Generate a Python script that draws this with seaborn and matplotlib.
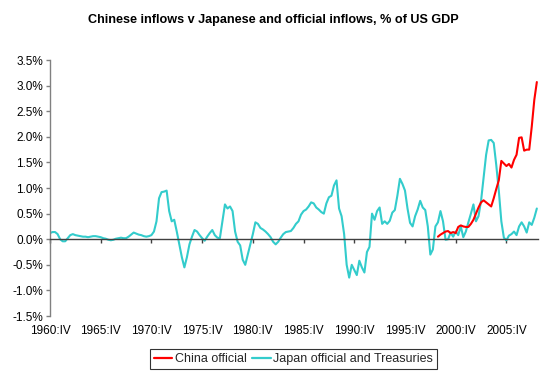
import numpy as np
import pandas as pd
import matplotlib
matplotlib.use("Agg")
import matplotlib.pyplot as plt
import seaborn as sns
from matplotlib.ticker import FuncFormatter, MultipleLocator
from matplotlib.lines import Line2D

# Quarterly data starting 1960:IV (index 0) through 2008:IV (index 192)
japan = [
    0.12, 0.14, 0.14, 0.10, 0.00, -0.04, -0.04, 0.02, 0.08, 0.10,
    0.08, 0.07, 0.06, 0.05, 0.05, 0.04, 0.05, 0.06, 0.06, 0.05,
    0.04, 0.02, 0.01, -0.01, -0.02, -0.01, 0.01, 0.02, 0.03, 0.02,
    0.02, 0.05, 0.09, 0.13, 0.11, 0.09, 0.08, 0.06, 0.05, 0.06,
    0.08, 0.15, 0.35, 0.80, 0.92, 0.93, 0.95, 0.55, 0.35, 0.38,
    0.15, -0.10, -0.35, -0.55, -0.35, -0.10, 0.05, 0.18, 0.15, 0.08,
    0.02, -0.03, 0.05, 0.12, 0.18, 0.08, 0.03, 0.02, 0.35, 0.68,
    0.60, 0.64, 0.55, 0.15, -0.05, -0.12, -0.40, -0.50, -0.30, -0.10,
    0.10, 0.33, 0.30, 0.22, 0.19, 0.15, 0.10, 0.04, -0.05, -0.10,
    -0.05, 0.03, 0.10, 0.14, 0.15, 0.16, 0.22, 0.30, 0.35, 0.48,
    0.55, 0.58, 0.64, 0.72, 0.70, 0.62, 0.58, 0.53, 0.50, 0.70,
    0.82, 0.85, 1.05, 1.15, 0.60, 0.45, 0.10, -0.50, -0.75, -0.50,
    -0.60, -0.70, -0.42, -0.55, -0.65, -0.25, -0.15, 0.50, 0.38, 0.55,
    0.62, 0.30, 0.35, 0.30, 0.36, 0.52, 0.57, 0.85, 1.18, 1.08,
    0.95, 0.60, 0.32, 0.25, 0.45, 0.58, 0.75, 0.62, 0.57, 0.25,
    -0.30, -0.20, 0.25, 0.33, 0.55, 0.35, -0.01, 0.00, 0.13, 0.05,
    0.15, 0.08, 0.25, 0.04, 0.15, 0.33, 0.50, 0.68, 0.35, 0.45,
    0.75, 1.20, 1.65, 1.93, 1.94, 1.88, 1.45, 0.95, 0.35, 0.03,
    -0.02, 0.07, 0.10, 0.15, 0.08, 0.25, 0.33, 0.25, 0.13, 0.33,
    0.28, 0.42, 0.60,
]
china_start = 153  # quarter index where the China series begins
china = [
    0.05, 0.09, 0.12, 0.15, 0.16, 0.12, 0.14, 0.12, 0.24, 0.27,
    0.25, 0.24, 0.24, 0.30, 0.38, 0.50, 0.62, 0.72, 0.76, 0.72,
    0.68, 0.64, 0.80, 0.98, 1.15, 1.53, 1.48, 1.43, 1.47, 1.40,
    1.55, 1.65, 1.98, 1.99, 1.73, 1.75, 1.75, 2.20, 2.72, 3.07,
]
tick_labels = ["1960:IV", "1965:IV", "1970:IV", "1975:IV", "1980:IV",
               "1985:IV", "1990:IV", "1995:IV", "2000:IV", "2005:IV"]
series_names = ["China official", "Japan official and Treasuries"]
colors = {"China official": "#FF0000", "Japan official and Treasuries": "#33CCCC"}
title = "Chinese inflows v Japanese and official inflows, % of US GDP"

n = len(japan)
df_j = pd.DataFrame({"q": np.arange(n), "value": japan, "series": series_names[1]})
df_c = pd.DataFrame({"q": np.arange(china_start, china_start + len(china)),
                     "value": china, "series": series_names[0]})
df = pd.concat([df_j, df_c], ignore_index=True)

sns.set_theme(style="white")
plt.rcParams["font.family"] = ["Liberation Sans", "DejaVu Sans"]

fig = plt.figure(figsize=(5.47, 3.74), dpi=100)
ax = fig.add_axes([0.0914, 0.155, 0.8914, 0.6845])

sns.lineplot(data=df, x="q", y="value", hue="series",
             hue_order=[series_names[1], series_names[0]],
             palette=colors, linewidth=1.5, ax=ax, legend=False, sort=True)

ax.set_xlim(0, n - 1 + 0.3)
ax.set_ylim(-1.5, 3.5)
ax.yaxis.set_major_locator(MultipleLocator(0.5))
ax.yaxis.set_major_formatter(FuncFormatter(lambda v, p: f"{v:.1f}%"))
ax.set_xticks(np.arange(0, n, 20)[:len(tick_labels)])
ax.set_xticklabels(tick_labels)
ax.set_xlabel("")
ax.set_ylabel("")

for s in ["top", "right"]:
    ax.spines[s].set_visible(False)
ax.spines["left"].set_color("#808080")
ax.spines["left"].set_linewidth(1.0)
ax.spines["bottom"].set_position(("data", 0))
ax.spines["bottom"].set_color("#404040")
ax.spines["bottom"].set_linewidth(1.0)

ax.tick_params(axis="y", which="major", direction="out", length=3, width=1,
               color="#808080", labelsize=8.5, labelcolor="#000000", pad=2, left=True)
ax.tick_params(axis="x", which="major", direction="out", length=3, width=1,
               color="#404040", labelsize=8.5, labelcolor="#000000", pad=59, bottom=True)
ax.grid(False)
ax.set_facecolor("white")
fig.patch.set_facecolor("white")

fig.text(0.5, 1 - 20 / 374, title, ha="center", va="center",
         fontsize=9.1, fontweight="bold", color="#000000")

handles = [Line2D([0], [0], color=colors[s], lw=1.6) for s in series_names]
leg = fig.legend(handles, series_names, loc="center", bbox_to_anchor=(293.3 / 547, 1 - 359 / 374),
                 ncol=2, frameon=True, fontsize=9, handlelength=1.5, handletextpad=0.2,
                 columnspacing=0.4, borderpad=0.3, fancybox=False)
leg.get_frame().set_edgecolor("#000000")
leg.get_frame().set_linewidth(0.8)

fig.savefig("out.png", dpi=100, facecolor="white")
